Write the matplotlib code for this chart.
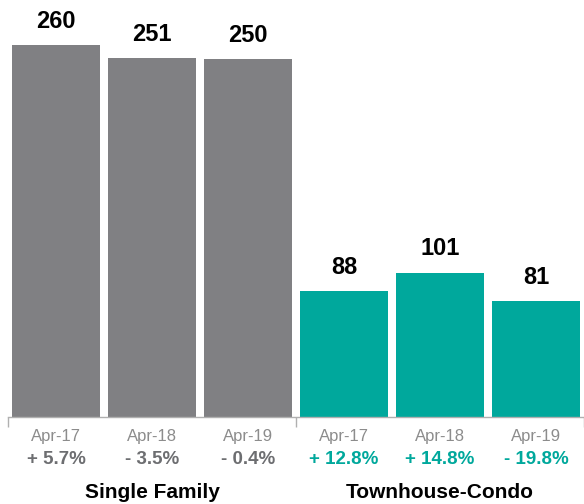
import numpy as np
from matplotlib import pyplot as plt

plt.rcParams['font.family'] = ['Liberation Sans', 'DejaVu Sans']

dates = ['Apr-17', 'Apr-18', 'Apr-19', 'Apr-17', 'Apr-18', 'Apr-19']
values = [260, 251, 250, 88, 101, 81]
changes = ['+ 5.7%', '- 3.5%', '- 0.4%', '+ 12.8%', '+ 14.8%', '- 19.8%']
groups = ['Single Family', 'Townhouse-Condo']

gray = '#808083'
teal = '#00a89c'
colors = [gray] * 3 + [teal] * 3
change_colors = ['#6d6e71'] * 3 + [teal] * 3

fig = plt.figure(figsize=(5.84, 5.04), dpi=100)
ax = fig.add_axes([8 / 584, 87 / 504, 576 / 584, 417 / 504])

x = np.arange(len(values))
ax.bar(x, values, width=0.916, color=colors)

ax.set_xlim(-0.5, 5.426)
ax.set_ylim(0, 291.6)

for s in ['top', 'right', 'left']:
    ax.spines[s].set_visible(False)
ax.spines['bottom'].set_color('#b0b0b0')
ax.spines['bottom'].set_linewidth(1)
ax.set_yticks([])
ax.set_xticks([-0.5, 2.5, 5.5])
ax.set_xticklabels([])
ax.tick_params(axis='x', length=7, color='#b0b0b0', width=1)

for i, v in enumerate(values):
    ax.annotate(str(v), xy=(i, v), xytext=(0, 24), textcoords='offset pixels',
                ha='center', va='center', fontsize=17, fontweight='bold', color='black')
    ax.annotate(dates[i], xy=(i, 0), xytext=(0, -19), textcoords='offset pixels',
                ha='center', va='center', fontsize=12, color='#8c8c8c', annotation_clip=False)
    ax.annotate(changes[i], xy=(i, 0), xytext=(0, -43), textcoords='offset pixels',
                ha='center', va='center', fontsize=13.5, fontweight='bold',
                color=change_colors[i], annotation_clip=False)

for g, name in enumerate(groups):
    ax.annotate(name, xy=(g * 3 + 1, 0), xytext=(0, -75), textcoords='offset pixels',
                ha='center', va='center', fontsize=15, fontweight='bold', color='black',
                annotation_clip=False)

fig.savefig('out.png', dpi=100)
